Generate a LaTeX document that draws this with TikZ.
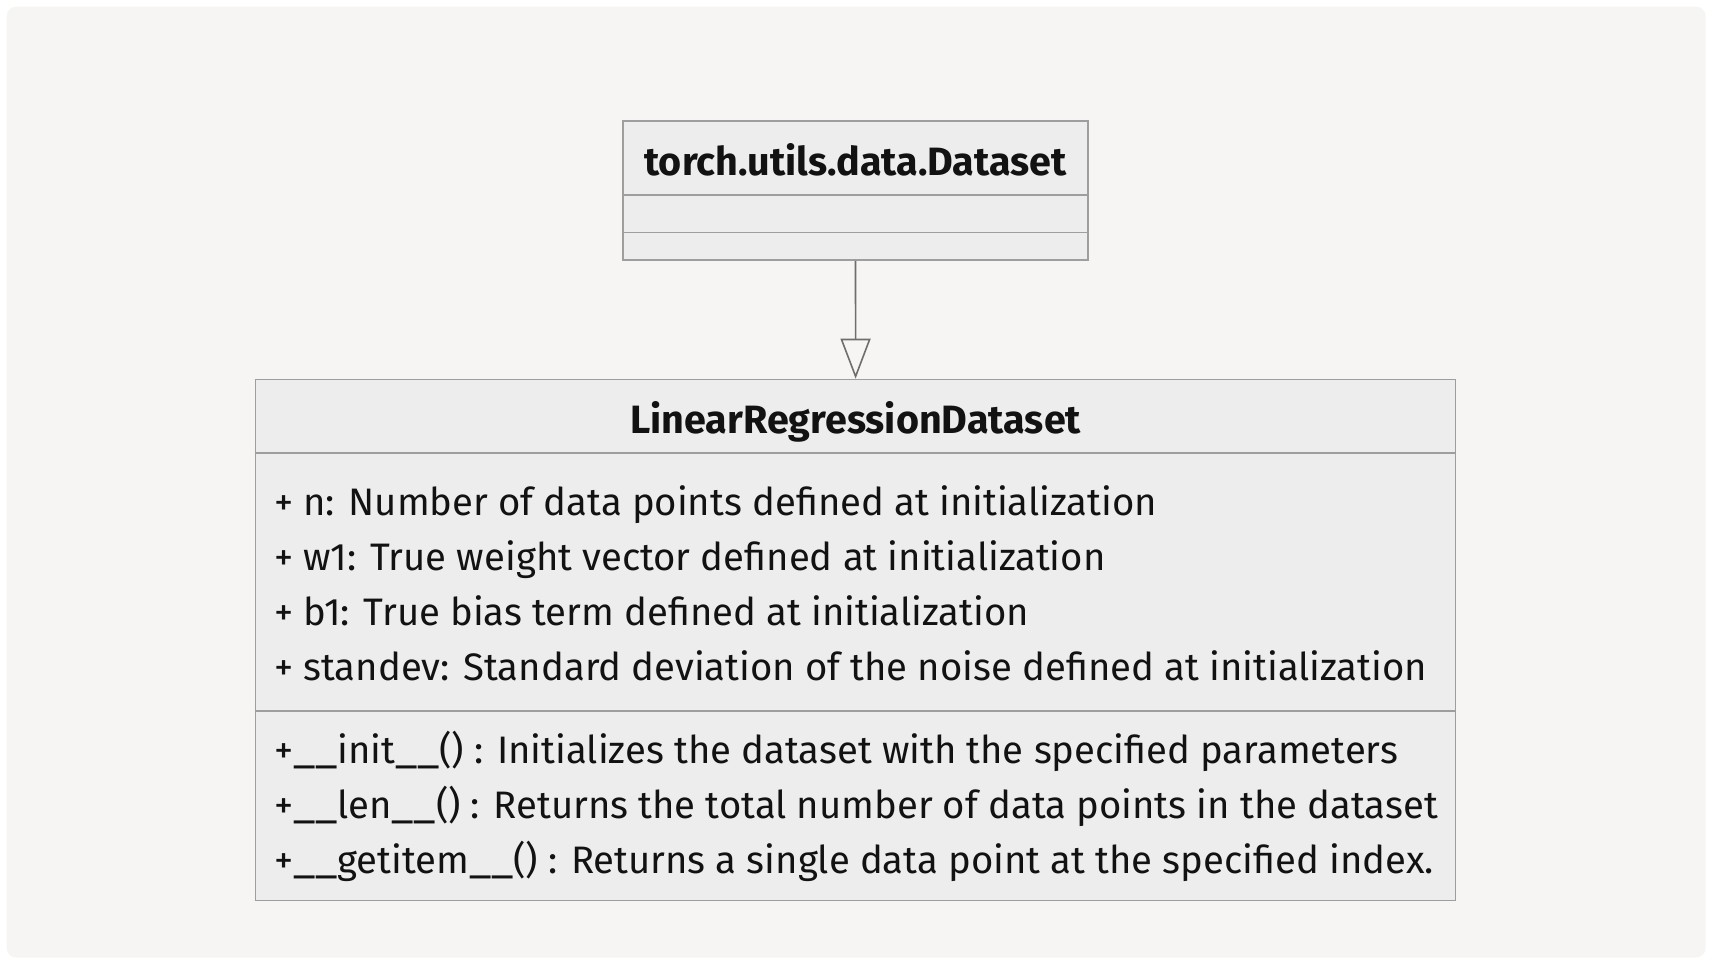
\documentclass[tikz,border=0pt]{standalone}
\usepackage{fontspec}
\setmainfont{Fira Sans}
\usetikzlibrary{arrows.meta}
\definecolor{bgcol}{HTML}{F6F5F3}
\definecolor{boxfill}{HTML}{EDEDED}
\definecolor{boxline}{HTML}{9E9E9E}
\definecolor{linkcol}{HTML}{6E6E6E}
\definecolor{ink}{HTML}{121212}
\newcommand{\umlfont}{\fontsize{38.3}{44}\selectfont}
\newcommand{\umltitlefont}{\fontsize{39.5}{46}\selectfont\bfseries}
% double underscore of Python dunder names, set a little wider
\newcommand{\dunder}{\scalebox{1.12}[1]{\_\_}}
\begin{document}
\begin{tikzpicture}[x=1pt,y=-1pt,
  classbox/.style={draw=boxline,fill=boxfill,line width=1.6pt,inner sep=0pt},
  sepline/.style={draw=boxline,line width=1.6pt},
  classtitle/.style={font=\umltitlefont,text=ink,inner sep=0pt,anchor=base},
  member/.style={font=\umlfont,text=ink,inner sep=0pt,anchor=base west},
  inherit/.style={draw=linkcol,line width=1.6pt,-{Triangle[open,length=40pt,width=30pt,fill=bgcol]}}]
\useasboundingbox (0,0) rectangle (1720,964);
\fill[white] (0,0) rectangle (1720,964);
\fill[bgcol,rounded corners=10pt] (6.6,6.6) rectangle (1705.7,957.6);

% parent class
\node[classbox,minimum width=465pt,minimum height=139.3pt] (base) at (855.5,190.4) {};
\draw[sepline] (base.west |- 0,195) -- (base.east |- 0,195);
\draw[sepline] (base.west |- 0,232.5) -- (base.east |- 0,232.5);
\node[classtitle] (basetitle) at (855.5,175) {torch.utils.data.Dataset};

% derived class
\node[classbox,minimum width=1200pt,minimum height=521pt] (derived) at (855.6,640) {};
\draw[sepline] (derived.west |- 0,453) -- (derived.east |- 0,453);
\draw[sepline] (derived.west |- 0,710.8) -- (derived.east |- 0,710.8);
\node[classtitle] (derivedtitle) at (855.6,433) {LinearRegressionDataset};

\node[member] (a1) at (274,515.5) {+ n: Number of data points defined at initialization};
\node[member] (a2) at (274,570.5) {+ w1: True weight vector defined at initialization};
\node[member] (a3) at (274,625.5) {+ b1: True bias term defined at initialization};
\node[member] (a4) at (274,680.5) {+ standev: Standard deviation of the noise defined at initialization};

\node[member] (m1) at (274,763.5) {+\dunder init\dunder() : Initializes the dataset with the specified parameters};
\node[member] (m2) at (274,818.5) {+\dunder len\dunder() : Returns the total number of data points in the dataset};
\node[member] (m3) at (274,873.5) {+\dunder getitem\dunder() : Returns a single data point at the specified index.};

% inheritance link
\draw[inherit] (base.south) -- (derived.north);
\end{tikzpicture}
\end{document}
